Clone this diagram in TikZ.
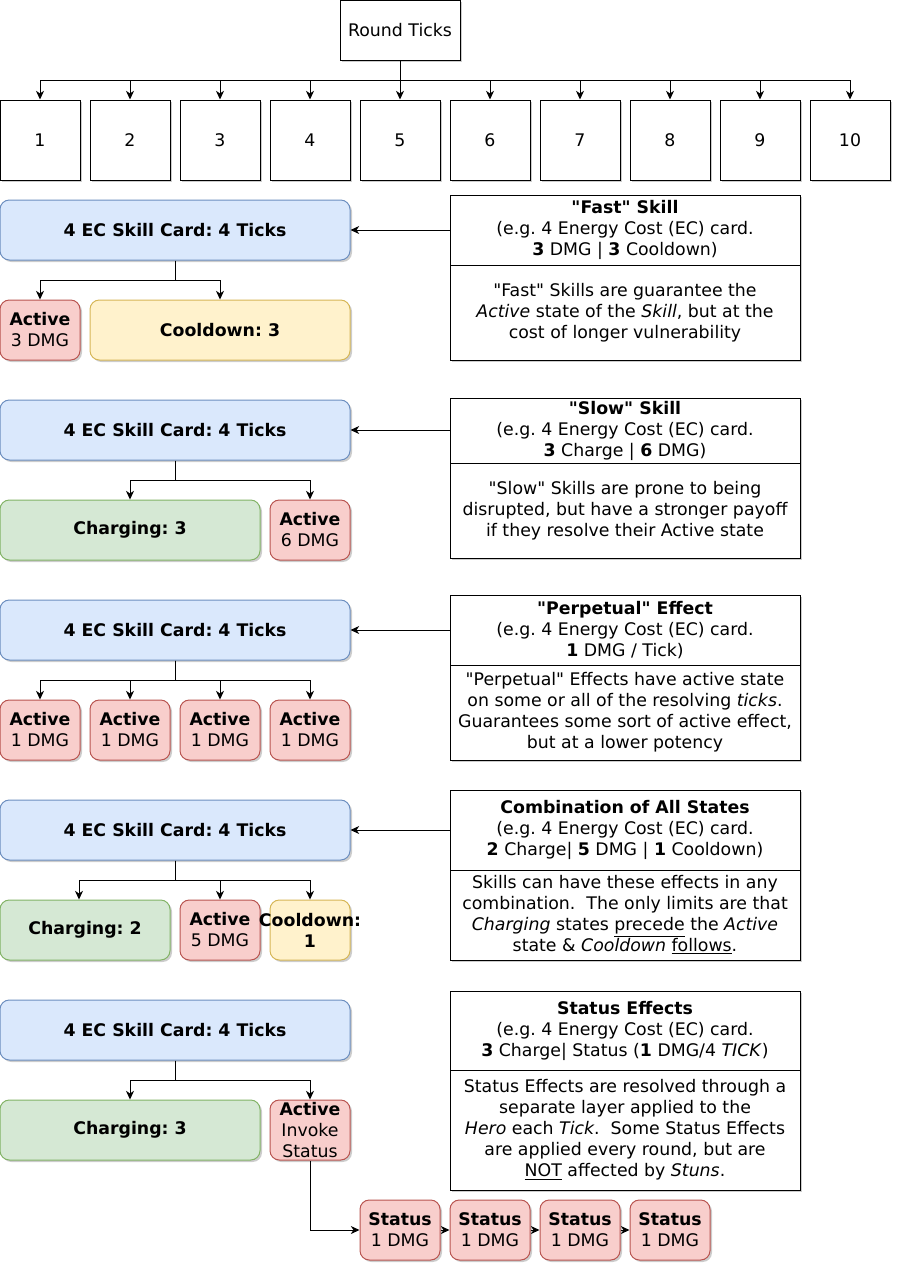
\documentclass[tikz,border=0pt]{standalone}
\usepackage{fontspec}
\setmainfont{DejaVu Sans}[Ligatures=TeXOff]
\frenchspacing
\usetikzlibrary{arrows.meta,shadows}

\definecolor{cardfill}{HTML}{DAE8FC}
\definecolor{carddraw}{HTML}{6C8EBF}
\definecolor{activefill}{HTML}{F8CECC}
\definecolor{activedraw}{HTML}{B85450}
\definecolor{coolfill}{HTML}{FFF2CC}
\definecolor{cooldraw}{HTML}{D6B656}
\definecolor{chargefill}{HTML}{D5E8D4}
\definecolor{chargedraw}{HTML}{82B366}

\begin{document}
\begin{tikzpicture}[
        x=0.75pt, y=-0.75pt,
        every node/.style={font=\fontsize{13}{15.75}\selectfont, inner sep=0pt, align=center},
        boxshadow/.style={drop shadow={shadow xshift=1.5pt, shadow yshift=-1.5pt, fill=black, opacity=0.2}},
        tick/.style={rectangle, draw, line width=0.75pt, fill=white, boxshadow, minimum width=60pt, minimum height=60pt},
        rounds/.style={rectangle, draw, line width=0.75pt, fill=white, boxshadow, minimum width=90pt, minimum height=45pt},
        card/.style={rectangle, draw=carddraw, fill=cardfill, line width=0.75pt, rounded corners=7pt, boxshadow, minimum width=262.5pt, minimum height=45pt, font=\fontsize{13}{15.75}\selectfont\bfseries},
        active/.style={rectangle, draw=activedraw, fill=activefill, line width=0.75pt, rounded corners=7pt, boxshadow, minimum width=60pt, minimum height=45pt},
        cooldown/.style={rectangle, draw=cooldraw, fill=coolfill, line width=0.75pt, rounded corners=7pt, boxshadow, minimum height=45pt, font=\fontsize{13}{15.75}\selectfont\bfseries},
        charging/.style={rectangle, draw=chargedraw, fill=chargefill, line width=0.75pt, rounded corners=7pt, boxshadow, minimum height=45pt, font=\fontsize{13}{15.75}\selectfont\bfseries},
        info/.style={rectangle, draw, line width=0.75pt, fill=white, boxshadow, minimum width=262.5pt},
        arr/.style={-{Stealth[length=6.5pt, width=6pt, inset=2pt]}, line width=0.75pt}
    ]

        \useasboundingbox (0,0) rectangle (902,1272);

        % Round ticks
        \node[rounds] (round_ticks) at (400,30) {Round Ticks};
        \node[tick] (tick1) at (40,140) {1};
        \node[tick] (tick2) at (130,140) {2};
        \node[tick] (tick3) at (220,140) {3};
        \node[tick] (tick4) at (310,140) {4};
        \node[tick] (tick5) at (400,140) {5};
        \node[tick] (tick6) at (490,140) {6};
        \node[tick] (tick7) at (580,140) {7};
        \node[tick] (tick8) at (670,140) {8};
        \node[tick] (tick9) at (760,140) {9};
        \node[tick] (tick10) at (850,140) {10};
        \draw[arr] (round_ticks.south) -- ++(0,20) -| (tick1.north);
        \draw[arr] (round_ticks.south) -- ++(0,20) -| (tick2.north);
        \draw[arr] (round_ticks.south) -- ++(0,20) -| (tick3.north);
        \draw[arr] (round_ticks.south) -- ++(0,20) -| (tick4.north);
        \draw[arr] (round_ticks.south) -- (tick5.north);
        \draw[arr] (round_ticks.south) -- ++(0,20) -| (tick6.north);
        \draw[arr] (round_ticks.south) -- ++(0,20) -| (tick7.north);
        \draw[arr] (round_ticks.south) -- ++(0,20) -| (tick8.north);
        \draw[arr] (round_ticks.south) -- ++(0,20) -| (tick9.north);
        \draw[arr] (round_ticks.south) -- ++(0,20) -| (tick10.north);

        % Fast skill: active then cooldown
        \node[card] (fast_card) at (175,230) {4 EC Skill Card: 4 Ticks};
        \node[active] (fast_active) at (40,330) {\textbf{Active}\\3 DMG};
        \node[cooldown, minimum width=195pt] (fast_cool) at (220,330) {Cooldown: 3};
        \draw[arr] (fast_card.south) -- ++(0,20) -| (fast_active.north);
        \draw[arr] (fast_card.south) -- ++(0,20) -| (fast_cool.north);
        \node[info, minimum height=52.5pt] (fast_head) at (625,230) {\textbf{"Fast" Skill}\\(e.g. 4 Energy Cost (EC) card.\\\textbf{3} DMG | \textbf{3} Cooldown)};
        \node[info, minimum height=71.25pt] (fast_body) at (625,312.5) {"Fast" Skills are guarantee the\\\textit{Active} state of the \textit{Skill}, but at the\\cost of longer vulnerability};
        \draw[arr] (fast_head.west) -- (fast_card.east);

        % Slow skill: charging then active
        \node[card] (slow_card) at (175,430) {4 EC Skill Card: 4 Ticks};
        \node[charging, minimum width=195pt] (slow_charge) at (130,530) {Charging: 3};
        \node[active] (slow_active) at (310,530) {\textbf{Active}\\6 DMG};
        \draw[arr] (slow_card.south) -- ++(0,20) -| (slow_charge.north);
        \draw[arr] (slow_card.south) -- ++(0,20) -| (slow_active.north);
        \node[info, minimum height=48.75pt] (slow_head) at (625,430.5) {\textbf{"Slow" Skill}\\(e.g. 4 Energy Cost (EC) card.\\\textbf{3} Charge | \textbf{6} DMG)};
        \node[info, minimum height=71.25pt] (slow_body) at (625,510.5) {"Slow" Skills are prone to being\\disrupted, but have a stronger payoff\\if they resolve their Active state};
        \draw[arr] (slow_head.west |- slow_card.east) -- (slow_card.east);

        % Perpetual effect: active on every tick
        \node[card] (perp_card) at (175,630) {4 EC Skill Card: 4 Ticks};
        \node[active] (perp_active1) at (40,730) {\textbf{Active}\\1 DMG};
        \node[active] (perp_active2) at (130,730) {\textbf{Active}\\1 DMG};
        \node[active] (perp_active3) at (220,730) {\textbf{Active}\\1 DMG};
        \node[active] (perp_active4) at (310,730) {\textbf{Active}\\1 DMG};
        \draw[arr] (perp_card.south) -- ++(0,20) -| (perp_active1.north);
        \draw[arr] (perp_card.south) -- ++(0,20) -| (perp_active2.north);
        \draw[arr] (perp_card.south) -- ++(0,20) -| (perp_active3.north);
        \draw[arr] (perp_card.south) -- ++(0,20) -| (perp_active4.north);
        \node[info, minimum height=52.5pt] (perp_head) at (625,630) {\textbf{"Perpetual" Effect}\\(e.g. 4 Energy Cost (EC) card.\\\textbf{1} DMG / Tick)};
        \node[info, minimum height=71.25pt] (perp_body) at (625,712.5) {"Perpetual" Effects have active state\\on some or all of the resolving \textit{ticks}.\\Guarantees some sort of active effect,\\but at a lower potency};
        \draw[arr] (perp_head.west) -- (perp_card.east);

        % Combination of all states
        \node[card] (combo_card) at (175,830) {4 EC Skill Card: 4 Ticks};
        \node[charging, minimum width=127.5pt] (combo_charge) at (85,930) {Charging: 2};
        \node[active] (combo_active) at (220,930) {\textbf{Active}\\5 DMG};
        \node[cooldown, minimum width=60pt] (combo_cool) at (310,930) {\makebox[60pt]{Cooldown:}\\1};
        \draw[arr] (combo_card.south) -- ++(0,20) -| ([xshift=-4.5pt]combo_charge.north);
        \draw[arr] (combo_card.south) -- ++(0,20) -| (combo_active.north);
        \draw[arr] (combo_card.south) -- ++(0,20) -| (combo_cool.north);
        \node[info, minimum height=60pt] (combo_head) at (625,830) {\textbf{Combination of All States}\\(e.g. 4 Energy Cost (EC) card.\\\textbf{2} Charge| \textbf{5} DMG | \textbf{1} Cooldown)};
        \node[info, minimum height=67.5pt] (combo_body) at (625,915) {Skills can have these effects in any\\combination.\ \ The only limits are that\\\textit{Charging} states \underline{precede} the \textit{Active}\\state \& \textit{Cooldown} \underline{follows}.};
        \draw[arr] (combo_head.west) -- (combo_card.east);

        % Status effects
        \node[card] (stat_card) at (175,1030) {4 EC Skill Card: 4 Ticks};
        \node[charging, minimum width=195pt] (stat_charge) at (130,1130) {Charging: 3};
        \node[active] (stat_active) at (310,1130) {\textbf{Active}\\Invoke\\Status};
        \draw[arr] (stat_card.south) -- ++(0,20) -| (stat_charge.north);
        \draw[arr] (stat_card.south) -- ++(0,20) -| (stat_active.north);
        \node[info, minimum height=59.25pt] (stat_head) at (625,1030.5) {\textbf{Status Effects}\\(e.g. 4 Energy Cost (EC) card.\\\textbf{3} Charge| Status (\textbf{1} DMG/4 \textit{TICK})};
        \node[info, minimum height=90pt] (stat_body) at (625,1130) {Status Effects are resolved through a\\separate layer applied to the\\\textit{Hero} each \textit{Tick}.\ \ Some Status Effects\\are applied every round, but are\\\underline{NOT} affected by \textit{Stuns}.};
        \node[active] (stat_tick1) at (400,1230) {\textbf{Status}\\1 DMG};
        \node[active] (stat_tick2) at (490,1230) {\textbf{Status}\\1 DMG};
        \node[active] (stat_tick3) at (580,1230) {\textbf{Status}\\1 DMG};
        \node[active] (stat_tick4) at (670,1230) {\textbf{Status}\\1 DMG};
        \draw[arr] (stat_active.south) |- (stat_tick1.west);
        \draw[arr] (stat_tick1.east) -- (stat_tick2.west);
        \draw[arr] (stat_tick2.east) -- (stat_tick3.west);
        \draw[arr] (stat_tick3.east) -- (stat_tick4.west);

    \end{tikzpicture}
\end{document}
